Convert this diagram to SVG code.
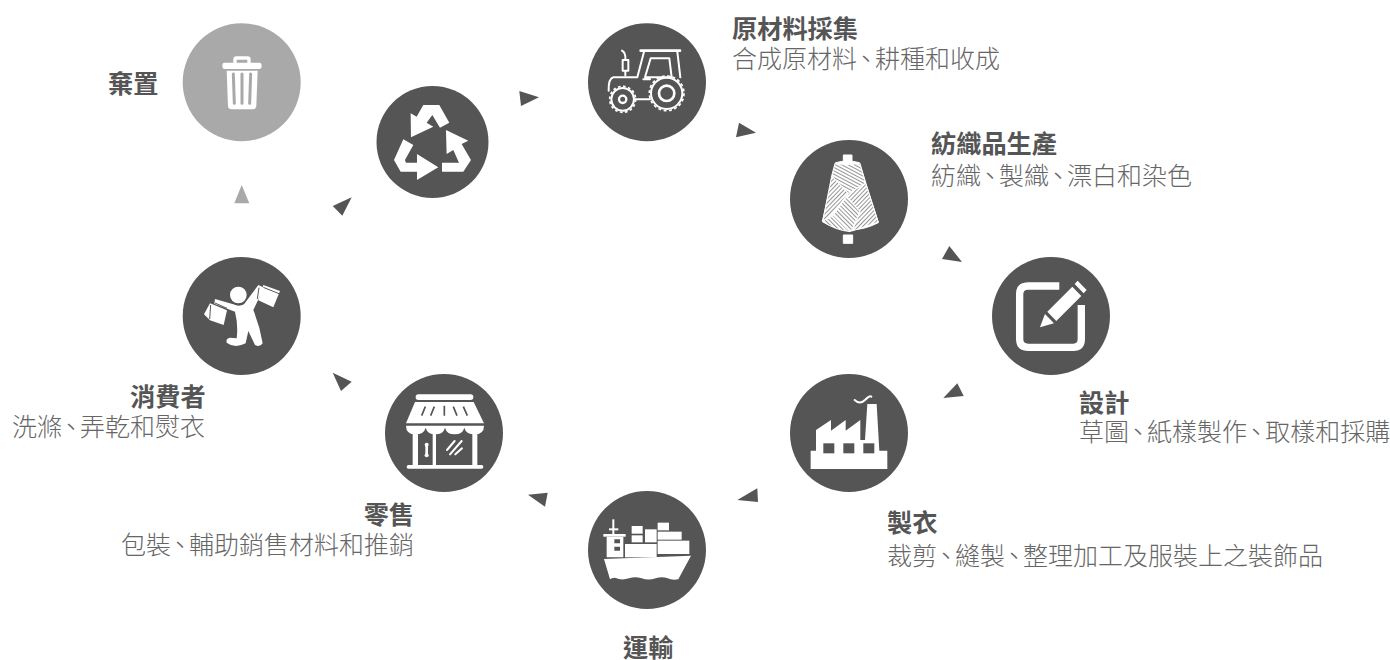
<svg xmlns="http://www.w3.org/2000/svg" width="1390" height="660" viewBox="0 0 1390 660">
<style>
.n{fill:#555556}.w{fill:#fff}.d{fill:#555556}
.t{font-family:"Noto Sans CJK TC","Noto Sans",sans-serif;font-size:25.2px;font-weight:700;fill:#555556}
.s{font-family:"Noto Sans CJK TC","Noto Sans",sans-serif;font-size:25px;font-weight:300;fill:#666667}
.l{fill:none;stroke:#fff;stroke-linecap:round;stroke-linejoin:round}
</style>
<defs>
<pattern id="h1" width="9" height="9" patternUnits="userSpaceOnUse" patternTransform="rotate(28)"><rect width="9" height="9" fill="#fff"/><rect width="9" height="2.5" fill="#808081"/></pattern>
<pattern id="h2" width="9" height="9" patternUnits="userSpaceOnUse" patternTransform="rotate(-46)"><rect width="9" height="9" fill="#fff"/><rect width="9" height="2.5" fill="#808081"/></pattern>
<pattern id="h3" width="9" height="9" patternUnits="userSpaceOnUse" patternTransform="rotate(45)"><rect width="9" height="9" fill="#fff"/><rect width="9" height="2.5" fill="#808081"/></pattern>
</defs>
<g id="connectors">
<polygon points="241.7,185 234.3,203.3 249.3,203.3" fill="#a9a9a9"/>
<polygon class="n" points="351.7,197.3 332.7,206 342.3,215.7"/>
<polygon class="n" points="519.3,91 539,97.3 521,106"/>
<polygon class="n" points="739,122.7 756,132.7 736,137.3"/>
<polygon class="n" points="949.3,246 962,262 942,259"/>
<polygon class="n" points="957.3,383.3 963.7,396 943.3,398"/>
<polygon class="n" points="757.3,488.3 758,502 737.3,500"/>
<polygon class="n" points="547.7,492.7 545,506.7 528,494.7"/>
<polygon class="n" points="332.7,372.7 351.7,381.7 341,391"/>
</g>
<g id="node-discard">
<circle cx="241.7" cy="82.3" r="59" fill="#a9a9a9"/>
<g transform="translate(170,10) scale(.3333)">
<path class="w" d="M163 158H190V148Q190 139 199 139H233Q242 139 242 148V158H268Q275 158 275 168Q275 177 268 177H164Q157 177 157 168Q157 158 163 158ZM200 158H232V149H200Z" fill-rule="evenodd"/>
<path class="w" d="M170 182H263L259 288Q258 298 248 298H185Q175 298 174 288Z"/>
<path d="M190 192L193 280M216 192V280M242 192L239 280" stroke="#a9a9a9" stroke-width="9" fill="none" stroke-linecap="round"/>
</g>
<text class="t" x="108" y="93">棄置</text>
</g>
<g id="node-recycle">
<circle class="n" cx="432.5" cy="142" r="56"/>
<g transform="translate(170,10) scale(.3333)" class="w">
<polygon points="760,285 808,285 838,338 810,353 787,315 770,338 790,350 723,382 722,310 740,320"/>
<polygon points="828,360 895,392 875,402 903,450 880,485 816,485 816,458 867,458 850,420 830,432"/>
<polygon points="700,388 730,405 705,450 708,458 741,458 741,432 805,472 741,510 741,485 692,485 672,450"/>
</g>
</g>
<g id="node-raw">
<circle class="n" cx="647" cy="82.3" r="59"/>
<g transform="translate(600,40) scale(.3333)">
<g class="l" stroke-width="6">
<circle cx="200" cy="160" r="47"/>
<circle cx="200" cy="160" r="52" stroke-dasharray="9 7.3" stroke-linecap="butt" stroke-width="5"/>
<circle cx="200" cy="160" r="23" stroke-width="8"/>
<circle cx="68" cy="178" r="34"/>
<circle cx="68" cy="178" r="39" stroke-dasharray="8 7.3" stroke-linecap="butt" stroke-width="5"/>
<circle cx="68" cy="178" r="11" stroke-width="7"/>
<path d="M122 32H240" stroke-width="8"/>
<path d="M132 35L112 112H40Q25 116 26 152M232 35L241 112M152 55H208L215 112H135ZM150 118H130M103 178H150M68 60H85V92H68ZM76 92V106M66 32Q78 38 76 60"/>
</g>
</g>
<text class="t" x="732" y="38">原材料採集</text>
<text class="s" x="732" y="68" dx="0 0 0 0 0 -3.5 -3.5">合成原材料、耕種和收成</text>
</g>
<g id="node-textile">
<circle class="n" cx="849" cy="199" r="59"/>
<g transform="translate(815,150) scale(.3333)" stroke="#fff" stroke-width="3" stroke-linejoin="round">
<rect class="w" x="85" y="15" width="26" height="28"/>
<rect class="w" x="85" y="255" width="28" height="25"/>
<path class="w" d="M62 38Q97 28 133 38L190 218Q105 262 22 215Z"/>
<path d="M60 40Q97 48 135 40L152 100L100 130L50 78Z" fill="url(#h1)"/>
<path d="M50 78L100 130L42 205L24 210Z" fill="url(#h2)"/>
<path d="M152 100L190 216L112 243L135 185L95 140L100 130Z" fill="url(#h2)"/>
<path d="M95 140L135 185L108 245L55 195Z" fill="url(#h3)"/>
<path d="M24 212L42 205L55 195L105 245Q60 240 24 215Z" fill="url(#h3)"/>
</g>
<text class="t" x="931" y="153">紡織品生產</text>
<text class="s" x="931" y="185" dx="0 0 -3.5 -3.5 0 -3.5 -3.5">紡織、製織、漂白和染色</text>
</g>
<g id="node-design">
<circle class="n" cx="1051" cy="316" r="59"/>
<g transform="translate(780,240) scale(.3333)">
<path d="M838 138H745Q719 138 719 162V298Q719 322 745 322H880Q904 322 904 298V195" fill="none" stroke="#fff" stroke-width="22"/>
<polygon class="w" points="780,262 795,222 822,250"/>
<polygon class="w" points="802,215 877,140 904,168 829,243"/>
<polygon class="w" points="893,122 920,150 911,160 884,132"/>
</g>
<text class="t" x="1079" y="412">設計</text>
<text class="s" x="1079" y="441" dx="0 0 -3.5 -3.5 0 0 0 -3.5 -3.5">草圖、紙樣製作、取樣和採購</text>
</g>
<g id="node-garment">
<circle class="n" cx="849" cy="433" r="59"/>
<g transform="translate(780,240) scale(.3333)">
<polygon class="w" points="92,687 322,687 322,632 298,632 290,492 262,492 255,600 241,600 241,540 197,572 197,540 153,572 153,540 108,570 108,632 92,632"/>
<rect class="d" x="130" y="610" width="33" height="30"/>
<rect class="d" x="190" y="610" width="33" height="30"/>
<rect class="d" x="250" y="610" width="33" height="30"/>
<path class="l" stroke-width="6" d="M224 480Q240 495 255 480T274 470"/>
</g>
<text class="t" x="887" y="532">製衣</text>
<text class="s" x="887" y="565" dx="0 0 -3.5 -3.5 0 -3.5 -3.5">裁剪、縫製、整理加工及服裝上之裝飾品</text>
</g>
<g id="node-ship">
<circle class="n" cx="647" cy="550" r="59"/>
<g transform="translate(595,510) scale(.3333)" class="w">
<rect x="52" y="28" width="6" height="44"/><rect x="42" y="55" width="28" height="6"/>
<rect x="25" y="72" width="67" height="8"/>
<path fill-rule="evenodd" d="M35 80H85V142H35ZM58 88V100H75V88ZM58 110V122H75V110Z"/>
<rect x="90" y="102" width="95" height="40"/>
<rect x="188" y="92" width="95" height="40"/>
<rect x="188" y="65" width="72" height="24"/>
<rect x="188" y="38" width="34" height="23"/>
<rect x="150" y="58" width="35" height="39"/>
<rect x="110" y="48" width="33" height="23"/>
<rect x="110" y="76" width="33" height="21"/>
<path d="M27 147L288 137L250 208Q232 212 218 205Q200 198 182 205Q160 212 140 205Q120 198 102 205Q80 212 62 204Q52 202 45 208Z"/>
</g>
<text class="t" x="623" y="657">運輸</text>
</g>
<g id="node-retail">
<circle class="n" cx="444" cy="433" r="59"/>
<g transform="translate(400,385) scale(.3333)">
<rect class="w" x="47" y="28" width="173" height="17" rx="8"/>
<polygon class="w" points="45,51 221,51 252,115 18,115"/>
<path d="M76 65L65 92M103 65L92 92M133 62V92M160 65L171 92M190 65L202 92" stroke="#555556" stroke-width="5" fill="none"/>
<path class="w" d="M18 122H252Q252 148 224 148Q198 148 193 128Q188 148 164 148Q140 148 135 128Q130 148 106 148Q82 148 77 128Q72 148 46 148Q18 148 18 122Z"/>
<rect class="w" x="38" y="145" width="16" height="97"/>
<rect class="w" x="98" y="145" width="10" height="97"/>
<rect class="w" x="217" y="145" width="15" height="97"/>
<rect class="w" x="20" y="240" width="230" height="11" rx="5"/>
<path class="l" stroke-width="8" d="M80 180V210"/>
<circle class="w" cx="80" cy="179" r="6"/><circle class="w" cx="80" cy="211" r="6"/>
<path class="l" stroke-width="6" d="M141 195L164 168M150 208L185 168M166 208L186 190"/>
</g>
<text class="t" x="414" y="524" text-anchor="end">零售</text>
<text class="s" x="414" y="554" text-anchor="end" dx="0 0 -3.5 -3.5">包裝、輔助銷售材料和推銷</text>
</g>
<g id="node-consumer">
<circle class="n" cx="241.7" cy="316" r="59"/>
<g transform="translate(195,275) scale(.3333)">
<circle class="w" cx="130" cy="60" r="25"/>
<path class="w" d="M60 72L115 88Q132 96 147 88L190 30L207 38L175 105Q195 155 203 205Q195 218 180 210L160 168L152 205Q120 222 95 203Q92 190 105 188L125 190Q130 150 120 110L58 86Z"/>
<polygon class="w" points="45,85 96,106 86,150 45,136 27,118"/>
<polygon class="w" points="205,30 255,48 235,97 190,76"/>
<path d="M47 90L44 132M60 84L96 100M205 37L252 56M192 38L187 72" stroke="#555556" stroke-width="3" fill="none"/>
</g>
<text class="t" x="130" y="406">消費者</text>
<text class="s" x="205" y="436" text-anchor="end" dx="0 0 -3.5 -3.5">洗滌、弄乾和熨衣</text>
</g>
</svg>
